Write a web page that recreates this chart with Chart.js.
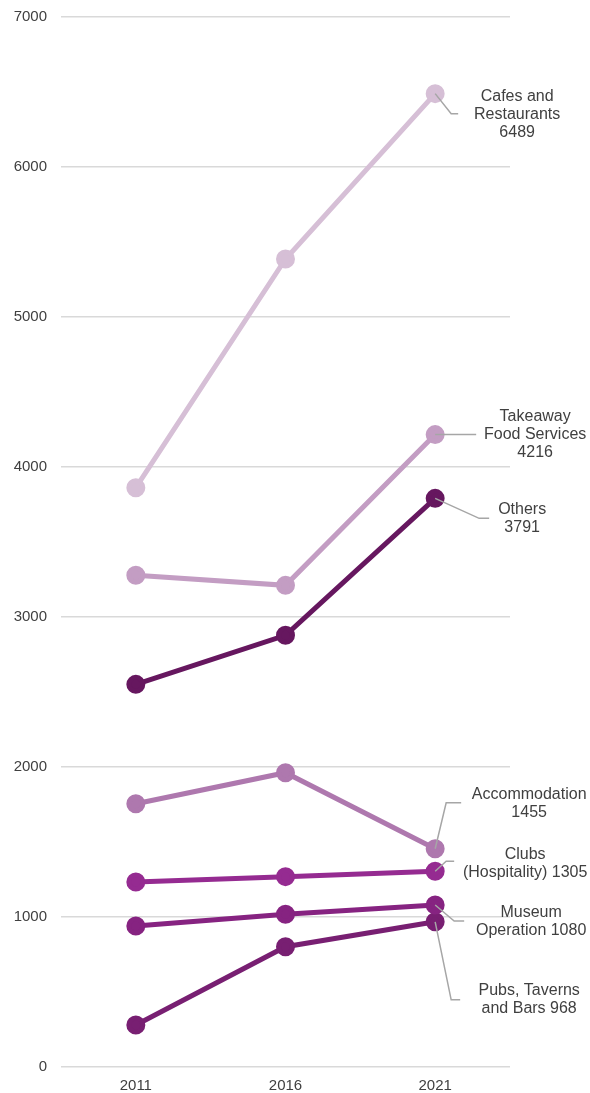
<!DOCTYPE html>
<html>
<head>
<meta charset="utf-8">
<script src="https://cdn.jsdelivr.net/npm/chart.js@4.4.1/dist/chart.umd.min.js"></script>
<style>
  html, body { margin: 0; padding: 0; background: #fff; }
  #wrap { width: 590px; height: 1093px; position: relative; }
</style>
</head>
<body>
<div id="wrap"><canvas id="chart"></canvas></div>
<script>
// Employment by industry, census years
const years = ['2011', '2016', '2021'];

const cafes = [3862, 5387, 6489];
const takeaway = [3278, 3211, 4216];
const others = [2551, 2878, 3791];
const accommodation = [1755, 1962, 1455];
const clubs = [1233, 1269, 1305];
const museum = [940, 1018, 1080];
const pubs = [280, 802, 968];

const seriesNames = ['Cafes and Restaurants', 'Takeaway Food Services', 'Others', 'Accommodation',
  'Clubs (Hospitality)', 'Museum Operation', 'Pubs, Taverns and Bars'];
const seriesValues = [cafes, takeaway, others, accommodation, clubs, museum, pubs];
const seriesColors = ['#d6bfd6', '#c39dc3', '#66175f', '#ae78ae', '#952b91', '#862381', '#781f72'];

// End label layout: text lines, text centre offset from the last point, leader elbow offsets
const endLabels = [
  { lines: ['Cafes and', 'Restaurants', '6489'], dx: 82, dy: 21, leader: [[16, 20], [23, 20]] },
  { lines: ['Takeaway', 'Food Services', '4216'], dx: 100, dy: 0, leader: [[41, 0]] },
  { lines: ['Others', '3791'], dx: 87, dy: 20, leader: [[44, 20], [54, 20]] },
  { lines: ['Accommodation', '1455'], dx: 94, dy: -45, leader: [[11, -46], [26, -46]] },
  { lines: ['Clubs', '(Hospitality) 1305'], dx: 90, dy: -8, leader: [[11, -10], [19, -10]] },
  { lines: ['Museum', 'Operation 1080'], dx: 96, dy: 17, leader: [[19, 16], [29, 16]] },
  { lines: ['Pubs, Taverns', 'and Bars 968'], dx: 94, dy: 78, leader: [[16, 78], [25, 78]] }
];

const endLabelPlugin = {
  id: 'endLabels',
  afterDatasetsDraw(chart) {
    const ctx = chart.ctx;
    ctx.save();
    chart.data.datasets.forEach((ds, i) => {
      const pts = chart.getDatasetMeta(i).data;
      const p = pts[pts.length - 1];
      const lab = endLabels[i];
      ctx.strokeStyle = '#a6a6a6';
      ctx.lineWidth = 1.5;
      ctx.beginPath();
      ctx.moveTo(p.x, p.y);
      lab.leader.forEach(([lx, ly]) => ctx.lineTo(p.x + lx, p.y + ly));
      ctx.stroke();
      ctx.fillStyle = '#404040';
      ctx.font = '16px "Liberation Sans", Arial, sans-serif';
      ctx.textAlign = 'center';
      ctx.textBaseline = 'middle';
      const lh = 18;
      const top = p.y + lab.dy - (lab.lines.length - 1) * lh / 2;
      lab.lines.forEach((t, k) => ctx.fillText(t, p.x + lab.dx, top + k * lh));
    });
    ctx.restore();
  }
};

const font = { family: '"Liberation Sans", Arial, sans-serif', size: 15 };

new Chart(document.getElementById('chart'), {
  type: 'line',
  data: {
    labels: years,
    datasets: seriesValues.map((vals, i) => ({
      label: seriesNames[i], data: vals,
      borderColor: seriesColors[i], backgroundColor: seriesColors[i],
      pointBackgroundColor: seriesColors[i], pointBorderColor: seriesColors[i],
      borderWidth: 5, pointRadius: 7, pointHoverRadius: 7, tension: 0
    }))
  },
  options: {
    responsive: true, maintainAspectRatio: false, animation: false,
    layout: { padding: { top: 17, right: 80, bottom: 0, left: 0 } },
    scales: {
      x: {
        offset: true,
        afterFit(scale) { scale.height = 26; },
        grid: { display: false, drawTicks: false }, border: { display: false },
        ticks: { color: '#404040', font, padding: 10 }
      },
      y: {
        min: 0, max: 7000,
        afterFit(scale) { scale.width = 61; scale.paddingTop = 0; scale.paddingBottom = 0; },
        grid: { color: '#d9d9d9', lineWidth: 1.5, drawTicks: false }, border: { display: false },
        ticks: { stepSize: 1000, color: '#404040', padding: 14, font, callback: v => String(v) }
      }
    },
    plugins: { legend: { display: false }, tooltip: { enabled: false } }
  },
  plugins: [endLabelPlugin]
});
</script>
</body>
</html>
